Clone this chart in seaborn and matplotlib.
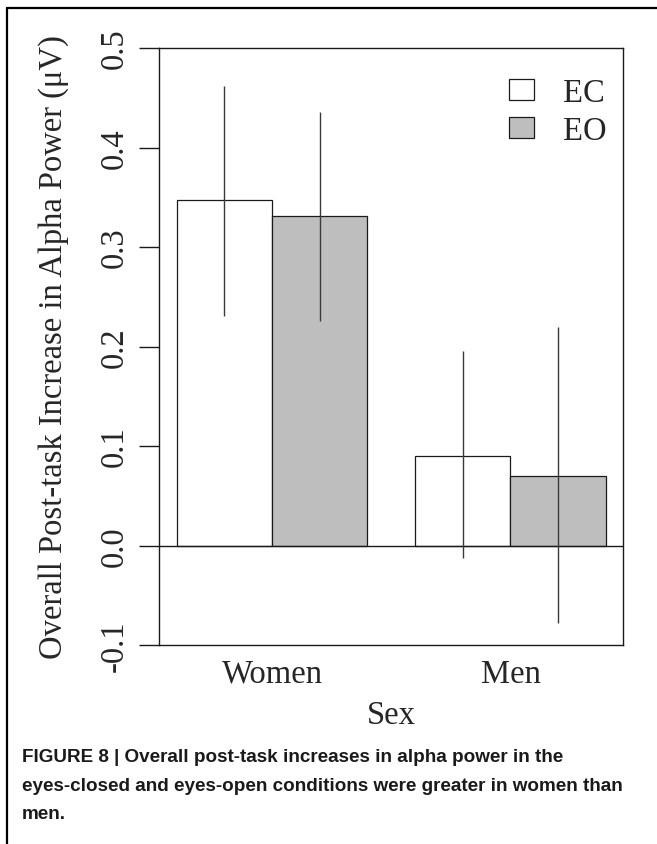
import matplotlib
matplotlib.use("Agg")
import matplotlib.pyplot as plt
from matplotlib.patches import Patch
from matplotlib.lines import Line2D
import seaborn as sns
import pandas as pd

# ---- data ----
sexes = ["Women", "Men"]
conditions = ["EC", "EO"]
ec_values = [0.347, 0.090]
eo_values = [0.331, 0.070]
ec_low = [0.231, -0.013]
ec_high = [0.462, 0.195]
eo_low = [0.226, -0.078]
eo_high = [0.436, 0.220]
y_ticks = [-0.1, 0.0, 0.1, 0.2, 0.3, 0.4, 0.5]
y_tick_labels = ["-0.1", "0.0", "0.1", "0.2", "0.3", "0.4", "0.5"]
colors = {"EC": "#ffffff", "EO": "#bebebe"}
caption_lines = [
    "FIGURE 8 | Overall post-task increases in alpha power in the",
    "eyes-closed and eyes-open conditions were greater in women than",
    "men.",
]

df = pd.DataFrame({
    "Sex": sexes + sexes,
    "Condition": ["EC"] * 2 + ["EO"] * 2,
    "value": ec_values + eo_values,
})
lows = {"EC": ec_low, "EO": eo_low}
highs = {"EC": ec_high, "EO": eo_high}

sns.set_style("white")
plt.rcParams["font.family"] = ["Liberation Serif", "DejaVu Serif"]
FS = 23.5

W, H = 657, 845
fig = plt.figure(figsize=(W / 100, H / 100), dpi=100)
ax = fig.add_axes([159 / W, 1 - 646 / H, 464 / W, 597 / H])

sns.barplot(data=df, x="Sex", y="value", hue="Condition", order=sexes,
            hue_order=conditions, palette=colors, edgecolor="#1a1a1a",
            linewidth=0.9, errorbar=None, width=0.8, legend=False, ax=ax)

# error lines at bar centres
for cond, cont in zip(conditions, ax.containers):
    for i, bar in enumerate(cont):
        xc = bar.get_x() + bar.get_width() / 2
        ax.vlines(xc, lows[cond][i], highs[cond][i], color="#3a3a3a", lw=1.0, zorder=5)

ax.axhline(0, color="#1a1a1a", lw=1.0, zorder=4)
ax.set_xlim(-0.474, 1.472)
ax.set_ylim(-0.1, 0.5)
ax.set_yticks(y_ticks)
ax.set_yticklabels(y_tick_labels, rotation=90, va="center", fontsize=FS)
ax.tick_params(axis="y", length=14.4, width=1.0, color="#1a1a1a", pad=7, left=True)
ax.tick_params(axis="x", length=0, pad=9.5, labelsize=FS)
for s in ax.spines.values():
    s.set_visible(True)
    s.set_color("#1a1a1a")
    s.set_linewidth(1.0)

ax.set_xlabel("Sex", fontsize=FS)
ax.xaxis.set_label_coords(0.5, -0.092)
ax.set_ylabel("Overall Post-task Increase in Alpha Power (\u03bcV)", fontsize=FS)
ax.yaxis.set_label_coords(-0.195, 0.5)

handles = [Patch(facecolor=colors[c], edgecolor="#1a1a1a", linewidth=0.9) for c in conditions]
ax.legend(handles, conditions, loc="upper right", bbox_to_anchor=(0.9655, 0.950),
          frameon=False, fontsize=FS, handlelength=0.77, handleheight=0.6,
          handletextpad=0.9, labelspacing=0.22, borderpad=0, borderaxespad=0)

# caption
cap_y = [758, 787, 815]
for line, yy in zip(caption_lines, cap_y):
    fig.text(22 / W, 1 - yy / H, line, ha="left", va="center",
             fontsize=13.6, fontweight="bold", family=["Liberation Sans", "DejaVu Sans"],
             color="#1a1a1a")

# outer frame (top and left)
fig.add_artist(Line2D([7 / W, 1], [1 - 9 / H, 1 - 9 / H], color="black", lw=1.6,
                      transform=fig.transFigure))
fig.add_artist(Line2D([7 / W, 7 / W], [0, 1 - 9 / H], color="black", lw=1.6,
                      transform=fig.transFigure))

fig.savefig("out.png", dpi=100)
